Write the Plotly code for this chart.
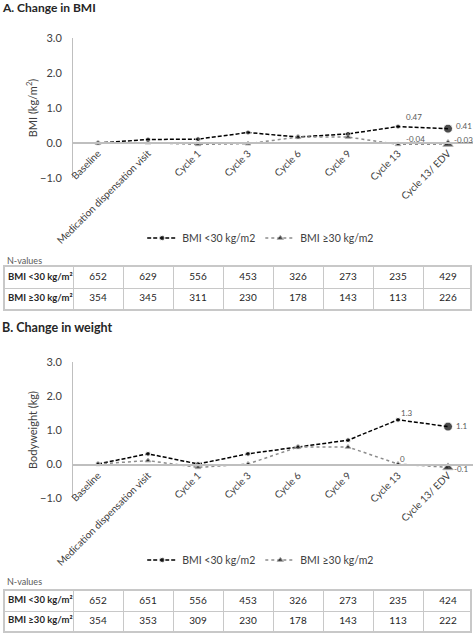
import plotly.graph_objects as go

# ---------------- data ----------------
categories = ["Baseline", "Medication dispensation visit", "Cycle 1", "Cycle 3",
              "Cycle 6", "Cycle 9", "Cycle 13", "Cycle 13/ EDV"]
series_names = ["BMI <30 kg/m2", "BMI ≥30 kg/m2"]
row_labels = ["BMI <30 kg/m²", "BMI ≥30 kg/m²"]

bmi_lt30 = [0.00, 0.10, 0.11, 0.30, 0.17, 0.26, 0.47, 0.41]
bmi_ge30 = [0.00, 0.01, -0.04, -0.02, 0.17, 0.17, -0.04, -0.03]
wt_lt30 = [0.0, 0.3, 0.0, 0.3, 0.5, 0.7, 1.3, 1.1]
wt_ge30 = [0.0, 0.1, -0.1, 0.0, 0.5, 0.5, 0.0, -0.1]

n_bmi_lt30 = [652, 629, 556, 453, 326, 273, 235, 429]
n_bmi_ge30 = [354, 345, 311, 230, 178, 143, 113, 226]
n_wt_lt30 = [652, 651, 556, 453, 326, 273, 235, 424]
n_wt_ge30 = [354, 353, 309, 230, 178, 143, 113, 222]

y_ticks = [-1, 0, 1, 2, 3]
labelled_points = [6, 7]

# ---------------- layout helpers ----------------
W, H = 474, 633
FONT = "Lato, 'Open Sans', sans-serif"
TXT = "#404040"
GRID = "#c8c8c8"
PLOT_L, PLOT_R = 73, 473          # pixel extent of the chart x-axis
TAB_L, TAB_R = 5, 470             # pixel extent of the N-value tables
NCAT = len(categories)
UNIT = (PLOT_R - PLOT_L) / NCAT   # pixels per category


def py(pix):
    return 1 - pix / H


def esc(s):
    return s.replace("<", "&lt;")


fig = go.Figure()

panels = [
    dict(lt=bmi_lt30, ge=bmi_ge30, xa="x", ya="y", legend="legend", fmt="{:.2f}",
         shifts=[(6, 10), (6, 3), (6, 5), (4, 4)]),
    dict(lt=wt_lt30, ge=wt_ge30, xa="x2", ya="y2", legend="legend2", fmt="{:g}",
         shifts=[(1, 7), (6, 1), (0, 5), (4, -2)]),
]

for p in panels:
    sizes = [5] * (NCAT - 1) + [9]
    fig.add_trace(go.Scatter(
        x=categories, y=p["lt"], name=esc(series_names[0]), mode="lines+markers",
        line=dict(color="black", width=1.5, dash="4px,2px"),
        marker=dict(symbol="circle", size=sizes, color="black"),
        xaxis=p["xa"], yaxis=p["ya"], legend=p["legend"], hoverinfo="skip"))
    fig.add_trace(go.Scatter(
        x=categories, y=p["ge"], name=esc(series_names[1]), mode="lines+markers",
        line=dict(color="#8c8c8c", width=1.5, dash="dot"),
        marker=dict(symbol="triangle-up", size=sizes, color="black"),
        xaxis=p["xa"], yaxis=p["ya"], legend=p["legend"], hoverinfo="skip"))
    k = 0
    for series in (p["lt"], p["ge"]):
        for i in labelled_points:
            xs, ys = p["shifts"][k]
            k += 1
            fig.add_annotation(
                x=categories[i], y=series[i], xref=p["xa"], yref=p["ya"],
                text=p["fmt"].format(series[i]), showarrow=False,
                xanchor="left", yanchor="middle", xshift=xs, yshift=ys,
                font=dict(family=FONT, size=8, color="#595959"))

x_dom = [PLOT_L / W, PLOT_R / W]
axis_common_x = dict(
    type="category", range=[-0.5, NCAT - 0.5], domain=x_dom, anchor="free",
    showline=True, linecolor="#bfbfbf", linewidth=1.5, showgrid=False,
    zeroline=False, tickangle=-45, ticks="", automargin=False,
    tickfont=dict(family=FONT, size=10, color=TXT))
axis_common_y = dict(
    range=[-1, 3], tickvals=y_ticks, tickformat=".1f", showline=True,
    linecolor="#bfbfbf", linewidth=1, showgrid=False, zeroline=False,
    ticks="", ticklabelstandoff=8, automargin=False,
    tickfont=dict(family=FONT, size=11, color=TXT))

fig.update_layout(
    xaxis=dict(**axis_common_x, position=py(143)),
    yaxis=dict(**axis_common_y, domain=[py(178), py(38)], anchor="x",
               title=dict(text="BMI (kg/m<sup>2</sup>)", standoff=0,
                          font=dict(family=FONT, size=11, color=TXT))),
    xaxis2=dict(**axis_common_x, position=py(465)),
    yaxis2=dict(**axis_common_y, domain=[py(498), py(362)], anchor="x2",
                title=dict(text="Bodyweight (kg)", standoff=0,
                           font=dict(family=FONT, size=11, color=TXT))),
)

legend_common = dict(orientation="h", xanchor="center", x=0.55, yanchor="middle",
                     font=dict(family=FONT, size=10.5, color=TXT),
                     bgcolor="rgba(0,0,0,0)", itemwidth=30, tracegroupgap=0)
fig.update_layout(legend=dict(**legend_common, y=py(238)),
                  legend2=dict(**legend_common, y=py(560)))

# ---------------- N-value tables (drawn on their own axes) ----------------
x_lo = -0.5 - (PLOT_L - TAB_L) / UNIT
x_hi = NCAT - 0.5 - (PLOT_R - TAB_R) / UNIT
label_x = x_lo + 3 / UNIT
col_idx = list(range(NCAT))
tables = [
    dict(nlt=n_bmi_lt30, nge=n_bmi_ge30, top=267, bottom=309, xa="x3", ya="y3"),
    dict(nlt=n_wt_lt30, nge=n_wt_ge30, top=591, bottom=631, xa="x4", ya="y4"),
]
for t in tables:
    for row_y, lab, vals in ((1.5, row_labels[0], t["nlt"]), (0.5, row_labels[1], t["nge"])):
        fig.add_trace(go.Scatter(
            x=col_idx, y=[row_y] * NCAT, mode="text", text=[str(v) for v in vals],
            textposition="middle center", showlegend=False, hoverinfo="skip",
            textfont=dict(family=FONT, size=10, color="#262626"),
            xaxis=t["xa"], yaxis=t["ya"]))
        fig.add_trace(go.Scatter(
            x=[label_x], y=[row_y], mode="text", text=["<b>" + esc(lab) + "</b>"],
            textposition="middle right", showlegend=False, hoverinfo="skip",
            textfont=dict(family=FONT, size=9.5, color="#262626"),
            xaxis=t["xa"], yaxis=t["ya"]))
    ax = t["xa"].replace("x", "xaxis")
    ay = t["ya"].replace("y", "yaxis")
    fig.layout[ax] = dict(
        range=[x_lo, x_hi], domain=[TAB_L / W, TAB_R / W], anchor=t["ya"],
        tickvals=[i - 0.5 for i in col_idx], showticklabels=False, ticks="",
        showgrid=True, gridcolor=GRID, gridwidth=1, zeroline=False,
        showline=True, mirror=True, linecolor=GRID, linewidth=1.5,
        automargin=False, fixedrange=True)
    fig.layout[ay] = dict(
        range=[0, 2], domain=[py(t["bottom"]), py(t["top"])], anchor=t["xa"],
        tickvals=[1], showticklabels=False, ticks="",
        showgrid=True, gridcolor=GRID, gridwidth=1, zeroline=False,
        showline=True, mirror=True, linecolor=GRID, linewidth=1.5,
        automargin=False, fixedrange=True)

# ---------------- titles & notes ----------------
for text, ypix, size, bold, col in [
        ("A. Change in BMI", 8, 12, True, "#262626"),
        ("B. Change in weight", 328, 12.5, True, "#262626"),
        ("N-values", 260, 9, False, "#595959"),
        ("N-values", 581, 9, False, "#595959")]:
    fig.add_annotation(x=0 if bold else 5 / W, y=py(ypix), xref="paper", yref="paper",
                       text=f"<b>{text}</b>" if bold else text, showarrow=False,
                       xanchor="left", yanchor="middle",
                       font=dict(family=FONT, size=size, color=col))

fig.update_layout(width=W, height=H, margin=dict(l=0, r=0, t=0, b=0, autoexpand=False),
                  plot_bgcolor="white", paper_bgcolor="white", showlegend=True,
                  hovermode=False)

fig.write_html("out.html", config={"displayModeBar": False},
               post_script="document.body.style.margin='0px';"
                           "document.body.style.overflow='hidden';")
